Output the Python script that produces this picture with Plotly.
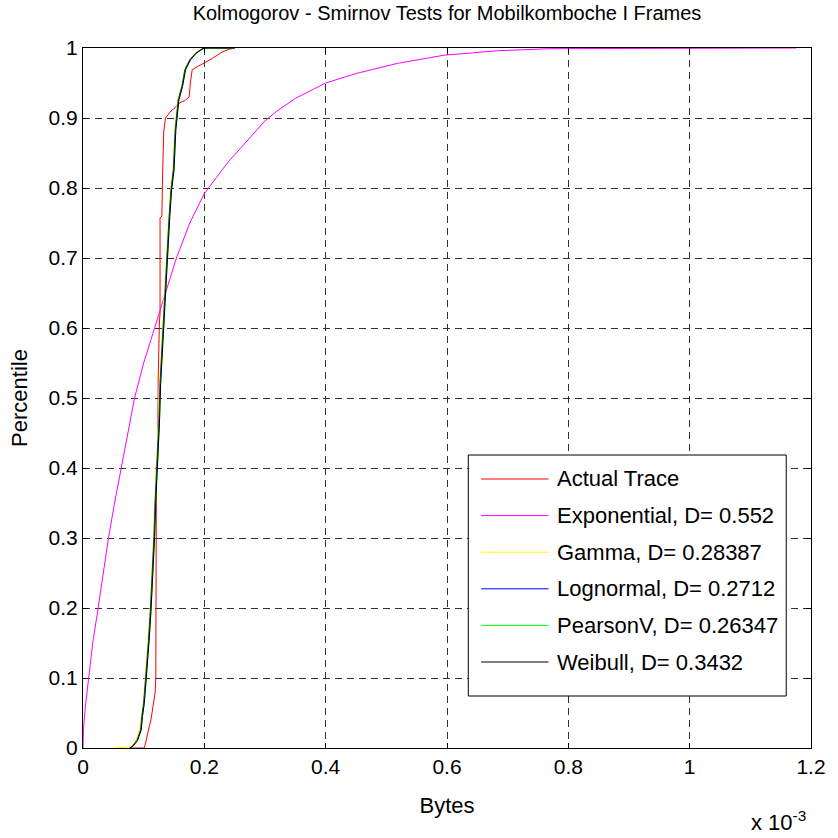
import plotly.graph_objects as go

# ---- data (x in units of 1e-3 bytes) ----
actual_x = [0.082, 0.101, 0.104, 0.106, 0.109, 0.112, 0.116, 0.119, 0.120, 0.120, 0.121, 0.121,
            0.123, 0.124, 0.126, 0.127, 0.127, 0.130, 0.131, 0.133, 0.136, 0.145, 0.152, 0.158,
            0.168, 0.175, 0.177, 0.180, 0.190, 0.199, 0.213, 0.229, 0.240, 0.250]
actual_y = [0.0, 0.0, 0.01, 0.02, 0.03, 0.04, 0.06, 0.08, 0.10, 0.20, 0.21, 0.40,
            0.41, 0.53, 0.61, 0.62, 0.757, 0.76, 0.81, 0.88, 0.90, 0.91, 0.915, 0.921,
            0.925, 0.93, 0.95, 0.969, 0.974, 0.978, 0.985, 0.994, 0.998, 1.0]

expo_x = [0.0, 0.001, 0.004, 0.009, 0.016, 0.025, 0.033, 0.042, 0.052, 0.063, 0.074, 0.085,
          0.100, 0.118, 0.136, 0.154, 0.176, 0.200, 0.220, 0.240, 0.260, 0.280, 0.300,
          0.320, 0.350, 0.400, 0.452, 0.518, 0.597, 0.629, 0.681, 0.770, 1.176]
expo_y = [0.0, 0.03, 0.06, 0.10, 0.15, 0.20, 0.25, 0.30, 0.35, 0.40, 0.45, 0.50,
          0.55, 0.60, 0.65, 0.70, 0.75, 0.792, 0.815, 0.838, 0.857, 0.876, 0.896,
          0.910, 0.928, 0.950, 0.964, 0.978, 0.99, 0.992, 0.996, 0.999, 1.0]

fit_y = [0.0, 0.002, 0.011, 0.026, 0.045, 0.064, 0.097, 0.126, 0.154, 0.195, 0.245, 0.302,
         0.354, 0.407, 0.464, 0.521, 0.621, 0.678, 0.721, 0.759, 0.797, 0.826, 0.883, 0.926,
         0.945, 0.969, 0.983, 0.992, 0.997, 1.0, 1.0]
gamma_x = [0.052, 0.079, 0.087, 0.093, 0.096, 0.099, 0.102, 0.105, 0.107, 0.110, 0.113, 0.116,
           0.118, 0.121, 0.124, 0.126, 0.132, 0.136, 0.139, 0.141, 0.144, 0.148, 0.151, 0.156,
           0.162, 0.167, 0.175, 0.184, 0.192, 0.198, 0.25]
logn_x = [0.077, 0.081, 0.089, 0.095, 0.097, 0.100, 0.103, 0.106, 0.108, 0.111, 0.114, 0.117,
          0.119, 0.122, 0.125, 0.127, 0.133, 0.137, 0.140, 0.142, 0.145, 0.149, 0.152, 0.157,
          0.163, 0.168, 0.176, 0.185, 0.193, 0.199, 0.25]
pearson_x = [0.077, 0.082, 0.090, 0.096, 0.098, 0.101, 0.104, 0.107, 0.109, 0.112, 0.115, 0.118,
             0.120, 0.123, 0.126, 0.128, 0.134, 0.138, 0.141, 0.143, 0.146, 0.150, 0.153, 0.158,
             0.164, 0.169, 0.177, 0.186, 0.194, 0.200, 0.25]
weibull_x = [0.077, 0.082, 0.090, 0.096, 0.098, 0.101, 0.104, 0.107, 0.109, 0.112, 0.115, 0.118,
             0.120, 0.123, 0.126, 0.128, 0.134, 0.138, 0.141, 0.143, 0.146, 0.150, 0.153, 0.158,
             0.164, 0.169, 0.177, 0.186, 0.194, 0.200, 0.25]

legend_labels = ["Actual Trace", "Exponential, D= 0.552", "Gamma, D= 0.28387",
                 "Lognormal, D= 0.2712", "PearsonV, D= 0.26347", "Weibull, D= 0.3432"]
colors = ["#ff0000", "#ff00ff", "#ffff00", "#0000ff", "#00ff00", "#000000"]

x_ticks = [0, 0.2, 0.4, 0.6, 0.8, 1.0, 1.2]
x_ticklabels = ["0", "0.2", "0.4", "0.6", "0.8", "1", "1.2"]
y_ticks = [0, 0.1, 0.2, 0.3, 0.4, 0.5, 0.6, 0.7, 0.8, 0.9, 1.0]
y_ticklabels = ["0", "0.1", "0.2", "0.3", "0.4", "0.5", "0.6", "0.7", "0.8", "0.9", "1"]

FONT = "Liberation Sans, Arial, sans-serif"

series = [(actual_x, actual_y), (expo_x, expo_y), (gamma_x, fit_y),
          (logn_x, fit_y), (pearson_x, fit_y), (weibull_x, fit_y)]

fig = go.Figure()
for (xs, ys), name, c in zip(series, legend_labels, colors):
    fig.add_trace(go.Scatter(x=xs, y=ys, mode="lines", name=name,
                             line=dict(color=c, width=1), showlegend=False))

# manual MATLAB-style legend (paper coordinates)
W, H = 838, 838
L, R, T, B = 83, 20, 48, 90
pw, ph = W - L - R, H - T - B
def px(xp):
    return (xp - L) / pw
def py(yp):
    return (H - B - yp) / ph

shapes = [dict(type="rect", xref="paper", yref="paper",
               x0=px(472), x1=px(793), y0=py(696), y1=py(455),
               line=dict(color="black", width=1), fillcolor="white", layer="above")]
annotations = []
for i, (name, c) in enumerate(zip(legend_labels, colors)):
    yc = 479 + i * 36.6
    shapes.append(dict(type="line", xref="paper", yref="paper",
                       x0=px(485), x1=px(553), y0=py(yc), y1=py(yc),
                       line=dict(color=c, width=1), layer="above"))
    annotations.append(dict(xref="paper", yref="paper", x=px(560), y=py(yc),
                            text=name, showarrow=False, xanchor="left", yanchor="middle",
                            font=dict(family=FONT, size=22, color="black")))

annotations.append(dict(xref="paper", yref="paper", x=px(815), y=py(821),
                        text="x 10<sup>-3</sup>", showarrow=False, xanchor="right",
                        yanchor="middle", font=dict(family=FONT, size=22, color="black")))

axis_common = dict(showline=True, linecolor="black", linewidth=1, mirror="ticks",
                   ticks="inside", ticklen=5, tickcolor="black",
                   showgrid=True, gridcolor="rgb(50,50,50)", gridwidth=1,
                   griddash="7px,5px", zeroline=False,
                   tickfont=dict(family=FONT, size=21, color="black"))

fig.update_layout(
    width=W, height=H,
    margin=dict(l=L, r=R, t=T, b=B),
    paper_bgcolor="white", plot_bgcolor="white",
    title=dict(text="Kolmogorov - Smirnov Tests for Mobilkomboche I Frames",
               x=px(450.5), xref="paper", xanchor="center",
               y=1 - 13 / H, yanchor="middle",
               font=dict(family=FONT, size=20, color="black")),
    xaxis=dict(range=[0, 1.2], tickvals=x_ticks, ticktext=x_ticklabels,
               title=dict(text="Bytes", standoff=20,
                          font=dict(family=FONT, size=22, color="black")),
               **axis_common),
    yaxis=dict(range=[0, 1], tickvals=y_ticks, ticktext=y_ticklabels,
               title=dict(text="Percentile", standoff=14,
                          font=dict(family=FONT, size=22, color="black")),
               **axis_common),
    shapes=shapes, annotations=annotations,
)

fig.write_html("out.html")
